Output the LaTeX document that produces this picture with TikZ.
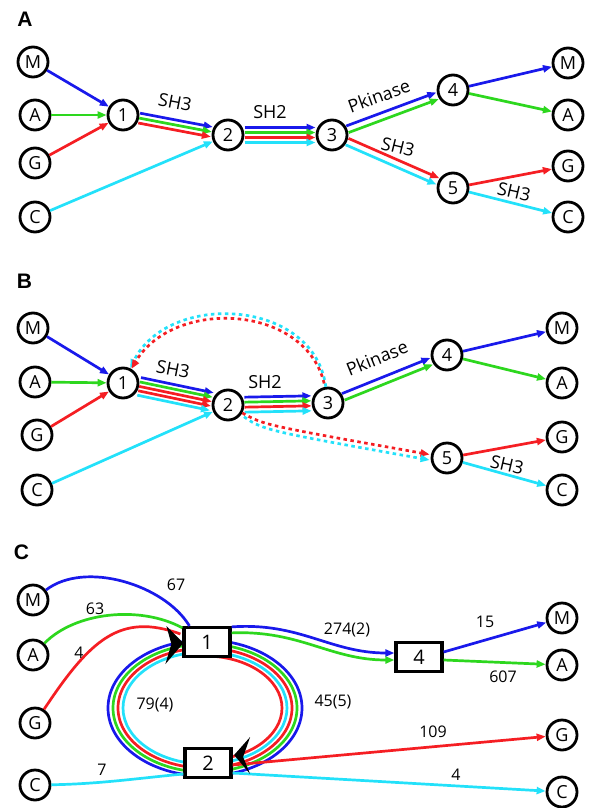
\documentclass[tikz,border=0pt]{standalone}
\usepackage{fontspec}
\setmainfont{Open Sans}
\newfontfamily\panelfont{Liberation Sans}
\usetikzlibrary{arrows.meta,calc}

\definecolor{fblue}{RGB}{25,25,235}
\definecolor{fgreen}{RGB}{45,215,30}
\definecolor{fred}{RGB}{245,30,35}
\definecolor{fcyan}{RGB}{35,225,250}

% arrow between two circle nodes, shifted sideways by #4 pt
\newcommand\offsetflow[4]{%
  \draw[flow,#1,shorten <=16.5pt,shorten >=16.5pt]
    ($(#2)!#4pt!90:(#3)$) -- ($(#3)!#4pt!-90:(#2)$);}

\tikzset{
  circ/.style={circle, draw, line width=2.8pt, minimum size=30pt, inner sep=0pt,
    fill=white, font=\fontsize{18}{18}\selectfont},
  box/.style={rectangle, draw, line width=3.2pt, minimum width=46pt, minimum height=29pt,
    inner sep=0pt, fill=white, font=\fontsize{20}{20}\selectfont},
  flow/.style={line width=2.7pt, -{Triangle[length=9pt,width=7pt]}},
  wire/.style={line width=2.7pt},
  dots/.style={line width=2.7pt, dash pattern=on 3.5pt off 3.5pt, -{Triangle[length=9pt,width=7pt]}},
  lab/.style={font=\fontsize{18}{18}\selectfont, inner sep=0pt},
  num/.style={font=\fontsize{16}{16}\selectfont, inner sep=0pt},
  panel/.style={font=\panelfont\bfseries\fontsize{21}{21}\selectfont, inner sep=0pt},
}

\begin{document}
\begin{tikzpicture}[x=1pt,y=-1pt]
\fill[white] (0,0) rectangle (590,808);
\useasboundingbox (0,0) rectangle (590,808);

% ---------------- A ----------------
\node[panel] (pa) at (25,19.5) {A};
\node[circ] (aM) at (33,62) {M};
\node[circ] (aA) at (35,115) {A};
\node[circ] (aG) at (35,163) {G};
\node[circ] (aC) at (35,217) {C};
\node[circ] (a1) at (123,115) {1};
\node[circ] (a2) at (228,135) {2};
\node[circ] (a3) at (332,135) {3};
\node[circ] (a4) at (453,90) {4};
\node[circ] (a5) at (453,188) {5};
\node[circ] (aM2) at (568,63) {M};
\node[circ] (aA2) at (568,115) {A};
\node[circ] (aG2) at (568,166) {G};
\node[circ] (aC2) at (568,217) {C};

\draw[flow,fblue] (aM) -- (a1);
\draw[flow,fgreen] (aA) -- (a1);
\draw[flow,fred] (aG) -- (a1);
\draw[flow,fcyan] (aC) -- (a2);
\offsetflow{fblue}{a1}{a2}{5}
\offsetflow{fgreen}{a1}{a2}{0}
\offsetflow{fred}{a1}{a2}{-5}
\offsetflow{fblue}{a2}{a3}{7.5}
\offsetflow{fgreen}{a2}{a3}{2.5}
\offsetflow{fred}{a2}{a3}{-2.5}
\offsetflow{fcyan}{a2}{a3}{-7.5}
\offsetflow{fblue}{a3}{a4}{3.5}
\offsetflow{fgreen}{a3}{a4}{-3.5}
\offsetflow{fred}{a3}{a5}{3.5}
\offsetflow{fcyan}{a3}{a5}{-3.5}
\draw[flow,fblue] (a4) -- (aM2);
\draw[flow,fgreen] (a4) -- (aA2);
\draw[flow,fred] (a5) -- (aG2);
\draw[flow,fcyan] (a5) -- (aC2);

\node[lab,rotate=-11] (la1) at (175,102) {SH3};
\node[lab] (la2) at (270,112) {SH2};
\node[lab,rotate=20] (la3) at (379,96) {Pkinase};
\node[lab,rotate=-14] (la4) at (398,147) {SH3};
\node[lab,rotate=-13] (la5) at (514,192) {SH3};

% ---------------- B ----------------
\node[panel] (pb) at (24.5,281.5) {B};
\node[circ] (bM) at (33,328) {M};
\node[circ] (bA) at (35,382) {A};
\node[circ] (bG) at (37,435) {G};
\node[circ] (bC) at (37,490) {C};
\node[circ] (b1) at (123,383) {1};
\node[circ] (b2) at (228,405) {2};
\node[circ] (b3) at (328,403) {3};
\node[circ] (b4) at (447,355) {4};
\node[circ] (b5) at (447,458) {5};
\node[circ] (bM2) at (562,328) {M};
\node[circ] (bA2) at (562,383) {A};
\node[circ] (bG2) at (562,437) {G};
\node[circ] (bC2) at (562,490) {C};

\draw[flow,fblue] (bM) -- (b1);
\draw[flow,fgreen] (bA) -- (b1);
\draw[flow,fred] (bG) -- (b1);
\draw[flow,fcyan] (bC) -- (b2);
\offsetflow{fblue}{b1}{b2}{9}
\offsetflow{fgreen}{b1}{b2}{4.5}
\offsetflow{fred}{b1}{b2}{0}
\offsetflow{fred}{b1}{b2}{-4.5}
\offsetflow{fcyan}{b1}{b2}{-9}
\offsetflow{fblue}{b2}{b3}{7.5}
\offsetflow{fgreen}{b2}{b3}{2.5}
\offsetflow{fred}{b2}{b3}{-2.5}
\offsetflow{fcyan}{b2}{b3}{-7.5}
\offsetflow{fblue}{b3}{b4}{3.5}
\offsetflow{fgreen}{b3}{b4}{-3.5}
\draw[flow,fblue] (b4) -- (bM2);
\draw[flow,fgreen] (b4) -- (bA2);
\draw[flow,fred] (b5) -- (bG2);
\draw[flow,fcyan] (b5) -- (bC2);

% dotted back link 3 -> 1 and skip link 2 -> 5
\draw[dots,fcyan] (b3) .. controls (314,298) and (168,291) .. (b1);
\draw[dots,fred,dash phase=3.5pt] (b3) .. controls (309,304) and (174,297) .. (b1);
\coordinate (b5r) at ($(b5.west)+(-1,-3.5)$);
\coordinate (b5c) at ($(b5.west)+(-1,2)$);
\draw[dots,fred] (b2) .. controls (264,425) .. (b5r);
\draw[dots,fcyan,dash phase=3.5pt] (b2) .. controls (262,430) .. (b5c);

\node[lab,rotate=-11] (lb1) at (173,369) {SH3};
\node[lab] (lb2) at (265,382) {SH2};
\node[lab,rotate=22] (lb3) at (377,358) {Pkinase};
\node[lab,rotate=-13] (lb4) at (507,465) {SH3};

% ---------------- C ----------------
\node[panel] (pc) at (21.5,552.5) {C};
\node[circ] (cM) at (33,600) {M};
\node[circ] (cA) at (33,655) {A};
\node[circ] (cG) at (35,723) {G};
\node[circ] (cC) at (35,785) {C};
\node[circ] (cM2) at (562,618) {M};
\node[circ] (cA2) at (562,665) {A};
\node[circ] (cG2) at (562,735) {G};
\node[circ] (cC2) at (562,792) {C};

% loop between boxes 1 and 2: left half 2 -> 1, right half 1 -> 2
\coordinate (cc) at (205,708);
\begin{scope}
  \clip (100,600) rectangle (205,800);
  \draw[wire,fblue] (cc) ellipse [x radius=97,y radius=68];
  \draw[wire,fgreen] (cc) ellipse [x radius=92,y radius=64];
  \draw[wire,fred] (cc) ellipse [x radius=87,y radius=60];
  \draw[wire,fcyan] (cc) ellipse [x radius=82,y radius=56];
\end{scope}
\begin{scope}
  \clip (205,600) rectangle (320,800);
  \draw[wire,fblue] (cc) ellipse [x radius=97,y radius=68];
  \draw[wire,fgreen] (cc) ellipse [x radius=92,y radius=64];
  \draw[wire,fred] (cc) ellipse [x radius=87,y radius=60];
  \draw[wire,fcyan] (cc) ellipse [x radius=82,y radius=56];
  \draw[wire,fred] (cc) ellipse [x radius=77,y radius=52];
\end{scope}

\node[box] (c1) at (207,642) {1};
\node[box] (c2) at (208,763) {2};
\node[box] (c4) at (419,657) {4};

% incoming curves
\coordinate (c1m) at ($(c1.north west)+(7,0)$);
\coordinate (c1a) at ($(c1.north west)+(0,2)$);
\coordinate (c1g) at ($(c1.west)+(-2,-8)$);
\draw[wire,fblue] (cM) .. controls (85,560) and (165,585) .. (c1m);
\draw[wire,fgreen] (cA) .. controls (75,612) and (140,605) .. (c1a);
\draw[wire,fred] (cG) .. controls (90,640) and (120,612) .. (c1g);
\coordinate (c2c) at ($(c2.west)+(0,11)$);
\draw[wire,fcyan] (cC) .. controls (100,784) and (140,778) .. (c2c);

% 1 -> 4
\coordinate (c1b) at ($(c1.north east)+(0,1)$);
\coordinate (c1gr) at ($(c1.north east)+(0,7)$);
\coordinate (c4b) at ($(c4.west)+(0,-4)$);
\coordinate (c4g) at ($(c4.west)+(0,3)$);
\draw[flow,fblue] (c1b) .. controls (300,622) and (330,653) .. (c4b);
\draw[flow,fgreen] (c1gr) .. controls (300,630) and (330,660) .. (c4g);
\draw[flow,fblue] ($(c4.east)+(0,-5)$) -- (cM2);
\draw[flow,fgreen] ($(c4.east)+(0,3)$) -- (cA2);

% 2 -> G, C
\draw[flow,fred] ($(c2.east)+(0,2)$) -- (cG2);
\draw[flow,fcyan] ($(c2.east)+(0,10)$) -- (cC2);

% loop arrowheads
\fill ($(c1.west)+(1,1)$) -- ++(-17,-17) -- ++(5,18) -- ++(-6,20) -- cycle;
\fill ($(c2.east)+(1.5,-8)$) -- ++(16,-18) -- ++(-7,20) -- ++(7,17) -- cycle;

\node[num] (n67) at (176,585) {67};
\node[num] (n63) at (95,609) {63};
\node[num] (n4a) at (79,653) {4};
\node[num] (n79) at (155,705) {79(4)};
\node[num] (n7) at (102,770) {7};
\node[num] (n274) at (347,630) {274(2)};
\node[num] (n15) at (485,622) {15};
\node[num] (n607) at (503,677) {607};
\node[num] (n45) at (333,702) {45(5)};
\node[num] (n109) at (433,732) {109};
\node[num] (n4b) at (456,775) {4};
\end{tikzpicture}
\end{document}
